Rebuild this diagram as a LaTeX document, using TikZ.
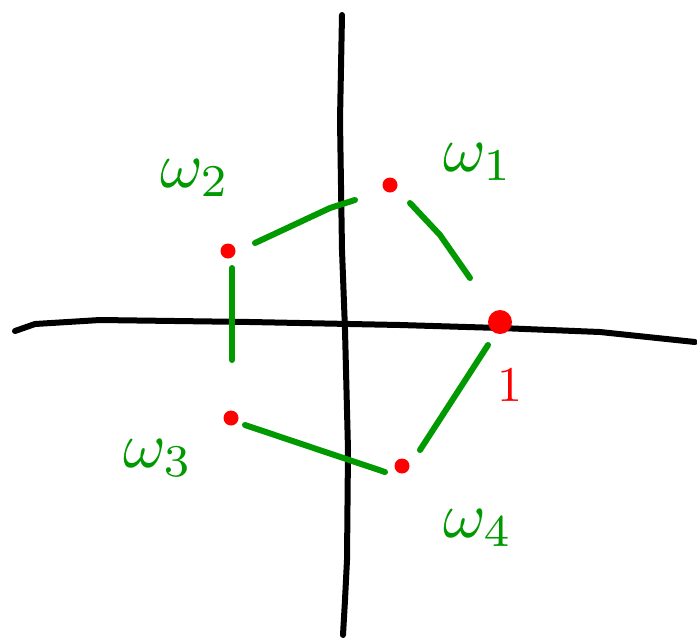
\documentclass[tikz,border=0pt]{standalone}
\usepackage{amsmath}
\begin{document}
\begin{tikzpicture}[x=1pt,y=-1pt,
  axis/.style={line width=6pt,line cap=round,line join=round,black},
  link/.style={line width=6pt,line cap=round,green!60!black},
  dot/.style={circle,fill=red,inner sep=0pt,minimum size=15pt},
  lab/.style={text=green!60!black,scale=6.5},
]
\useasboundingbox (0,0) rectangle (697,641);
% axes
\draw[axis] (15,331) -- (35,324) -- (100,320) -- (250,322) -- (400,325) -- (500,328) -- (600,332) -- (695,342);
\draw[axis] (342,15) -- (340,120) -- (342,250) -- (345,330) -- (348,450) -- (347,560) -- (345,600) -- (343,635);
% points
\node[dot] (w1) at (390,185) {};
\node[dot] (w2) at (228,251) {};
\node[dot,minimum size=24pt] (one) at (500,322) {};
\node[dot] (w3) at (231,418) {};
\node[dot] (w4) at (402,466) {};
% connector endpoints
\coordinate (a1) at (255,243); \coordinate (a2) at (355,200);
\coordinate (b1) at (410,203); \coordinate (b2) at (470,278);
\coordinate (c1) at (488,345); \coordinate (c2) at (420,450);
\coordinate (d1) at (385,472); \coordinate (d2) at (245,425);
\coordinate (e1) at (232,268); \coordinate (e2) at (232,360);
\draw[link] (a1) -- (300,222) -- (330,208) -- (a2);
\draw[link] (b1) -- (440,235) -- (b2);
\draw[link] (c1) -- (c2);
\draw[link] (d1) -- (d2);
\draw[link] (e1) -- (e2);
% labels
\node[lab] (l2) at (195,178) {$\omega_2$};
\node[lab] (l1) at (478,162) {$\omega_1$};
\node[lab] (l3) at (158,458) {$\omega_3$};
\node[lab] (l4) at (478,528) {$\omega_4$};
\node[text=red,scale=5] (l0) at (510,385) {$1$};
\end{tikzpicture}
\end{document}
